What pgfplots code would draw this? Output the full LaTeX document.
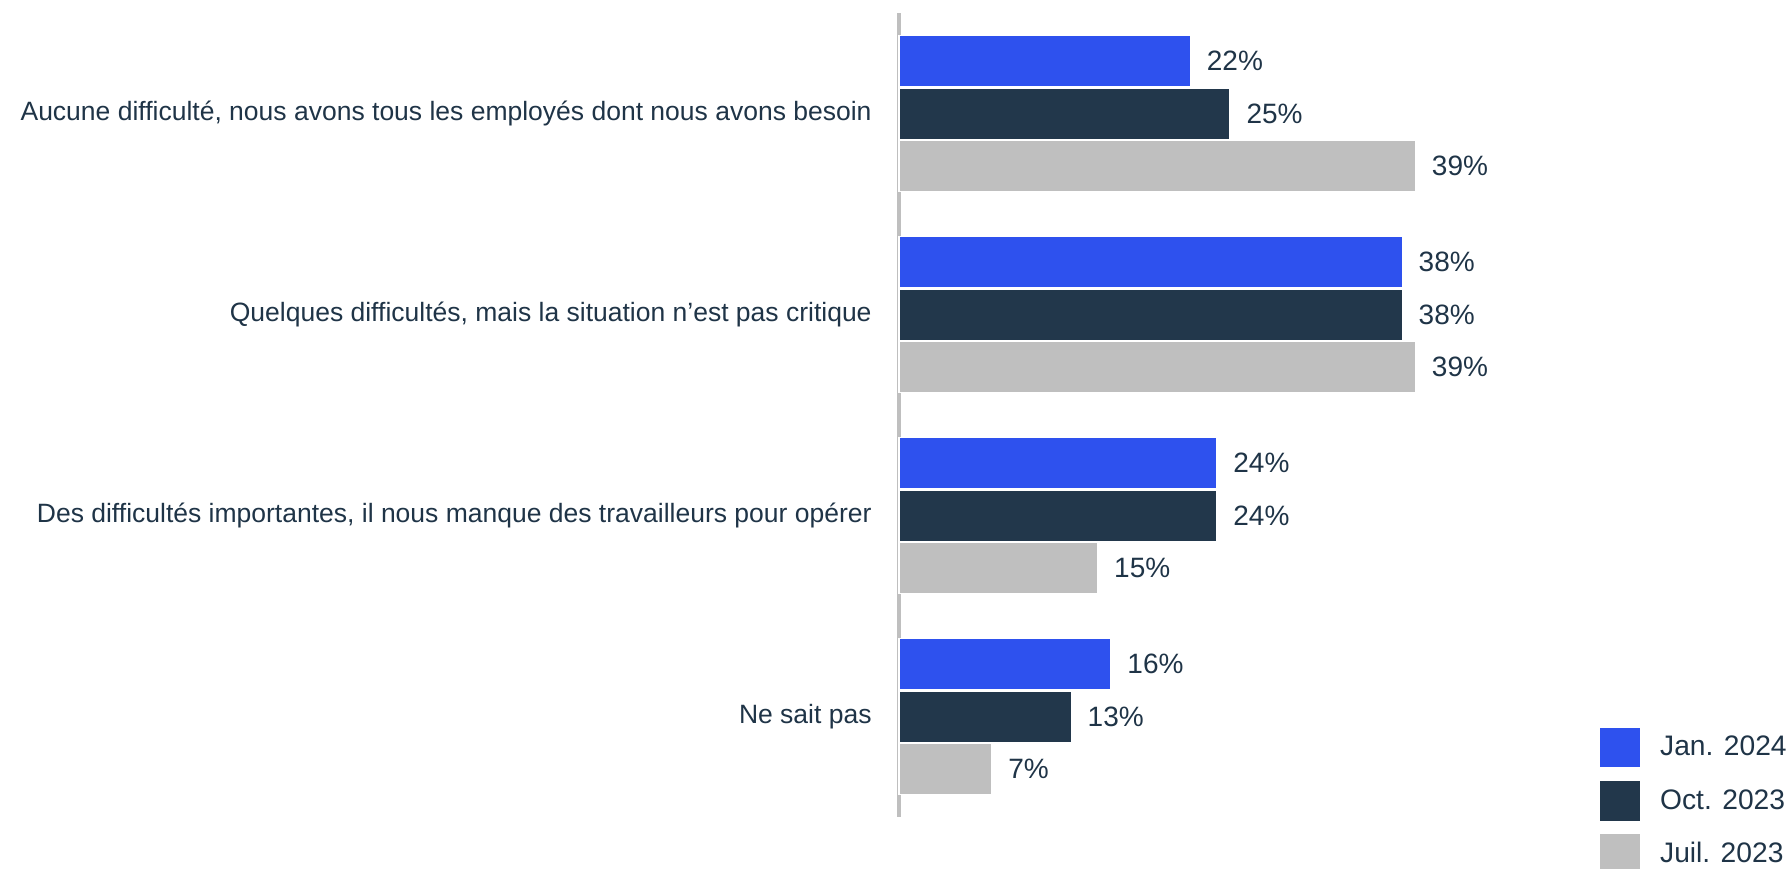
\documentclass[border=0pt]{standalone}
\usepackage{pgfplots}
\pgfplotsset{compat=1.18}
\usepackage{fontspec}
\setmainfont{Liberation Sans}
\definecolor{cblue}{HTML}{2E51EE}
\definecolor{cnavy}{HTML}{22374B}
\definecolor{cgray}{HTML}{BFBFBF}
\definecolor{ctext}{HTML}{1F3447}
\begin{document}
\begin{tikzpicture}
\begin{axis}[
  at={(449.5pt,-6.5pt)}, anchor=north west,
  scale only axis,
  x=6.62pt, y=100.5pt,
  xbar, bar width=25.6pt,
  xmin=0, xmax=60,
  ymin=-0.5, ymax=3.5,
  y dir=reverse,
  axis x line=none,
  axis y line*=left,
  y axis line style={draw=cgray, line width=2.2pt, -},
  ytick={0,1,2,3},
  yticklabels={{Aucune difficulté, nous avons tous les employés dont nous avons besoin},
    {Quelques difficultés, mais la situation n’est pas critique},
    {Des difficultés importantes, il nous manque des travailleurs pour opérer},
    {Ne sait pas}},
  major tick length=0pt,
  yticklabel style={anchor=east, inner sep=0pt, xshift=-13.5pt, font=\fontsize{13.25}{15}\selectfont, text=ctext},
  /pgf/number format/assume math mode=true,
  nodes near coords={\pgfmathprintnumber{\pgfplotspointmeta}\%},
  nodes near coords style={anchor=west, inner sep=0pt, xshift=8pt, font=\fontsize{14}{16}\selectfont, text=ctext},
  point meta=x,
  clip=false,
  legend style={at={(0.8806,0.1132)}, anchor=north west, draw=none, fill=none,
    font=\fontsize{14.1}{16}\selectfont, text=ctext, row sep=5.5pt, inner sep=0pt,
    cells={anchor=west}, nodes={inner xsep=9.5pt}},
  legend cell align=left,
  legend image code/.code={\fill[#1] (0pt,-10.25pt) rectangle (20.5pt,10.25pt);},
]
\addplot[fill=cblue, draw=white, line width=0.6pt, bar shift=26.3pt] coordinates {(22,0) (38,1) (24,2) (16,3)};
\addplot[fill=cnavy, draw=white, line width=0.6pt, bar shift=0pt] coordinates {(25,0) (38,1) (24,2) (13,3)};
\addplot[fill=cgray, draw=white, line width=0.6pt, bar shift=-26.3pt] coordinates {(39,0) (39,1) (15,2) (7,3)};
\legend{Jan. 2024, Oct. 2023, Juil. 2023}
\end{axis}
\pgfresetboundingbox
\path (0,0) rectangle (895.5pt,-434pt);
\end{tikzpicture}
\end{document}
